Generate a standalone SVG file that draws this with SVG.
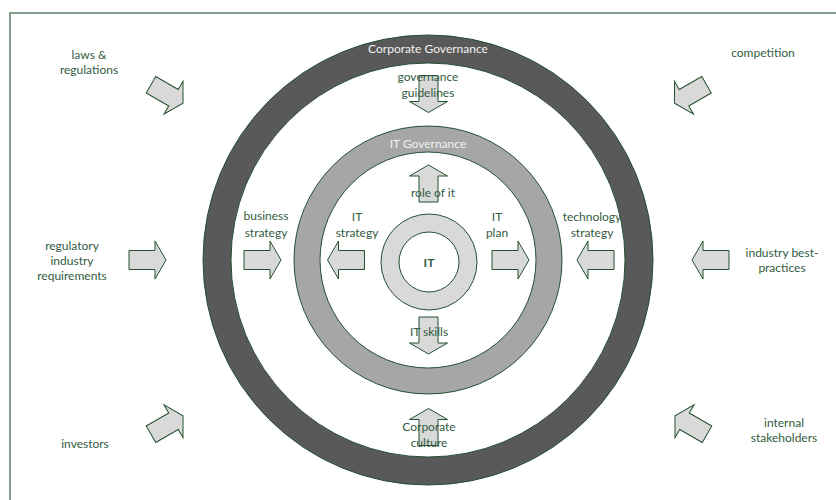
<svg xmlns="http://www.w3.org/2000/svg" xmlns:xlink="http://www.w3.org/1999/xlink" width="836" height="500" viewBox="0 0 836 500">
<style>
  text { font-family: Lato, "Open Sans", "Liberation Sans", sans-serif; font-size: 12px; fill: #325c41; text-anchor: middle; }
  .light { fill: #f2f2f2; }
  .bold { font-weight: bold; }
  .ring { stroke: #23502f; stroke-width: 1; fill-rule: evenodd; }
  .arr { fill: #d9d9d9; stroke: #23502f; stroke-width: 1; stroke-linejoin: miter; }
</style>
<defs>
  <polygon id="blk" points="-18.5,-9.5 7.5,-9.5 7.5,-19 18.5,0 7.5,19 7.5,9.5 -18.5,9.5"/>
</defs>
<rect x="0" y="0" width="836" height="500" fill="#ffffff"/>
<rect x="10" y="13" width="850" height="520" fill="#ffffff" stroke="#7f9d89" stroke-width="2"/>

<g id="corporate-governance">
  <path class="ring" fill="#595959" d="M203,260 a225,225 0 1,0 450,0 a225,225 0 1,0 -450,0 Z M231,260 a197,197 0 1,0 394,0 a197,197 0 1,0 -394,0 Z"/>
  <text class="light" x="428" y="53">Corporate Governance</text>
</g>
<g id="it-governance">
  <path class="ring" fill="#a6a6a6" d="M294,260 a134,134 0 1,0 268,0 a134,134 0 1,0 -268,0 Z M320,260 a108,108 0 1,0 216,0 a108,108 0 1,0 -216,0 Z"/>
  <text class="light" x="428" y="148">IT Governance</text>
</g>
<g id="it">
  <path class="ring" fill="#d9d9d9" d="M381,262 a48,48 0 1,0 96,0 a48,48 0 1,0 -96,0 Z M399,262 a30,30 0 1,0 60,0 a30,30 0 1,0 -60,0 Z"/>
  <text class="bold" x="429" y="267">IT</text>
</g>

<g id="connectors">
  <use xlink:href="#blk" class="arr" transform="translate(167,94) rotate(30)"/>
  <use xlink:href="#blk" class="arr" transform="translate(690.5,94) rotate(150)"/>
  <use xlink:href="#blk" class="arr" transform="translate(167,425) rotate(-30)"/>
  <use xlink:href="#blk" class="arr" transform="translate(691,425) rotate(-150)"/>
  <use xlink:href="#blk" class="arr" transform="translate(147.5,260)"/>
  <use xlink:href="#blk" class="arr" transform="translate(262.5,260)"/>
  <use xlink:href="#blk" class="arr" transform="translate(346,260) rotate(180)"/>
  <use xlink:href="#blk" class="arr" transform="translate(510.5,260)"/>
  <use xlink:href="#blk" class="arr" transform="translate(595.5,260) rotate(180)"/>
  <use xlink:href="#blk" class="arr" transform="translate(710.5,260) rotate(180)"/>
  <use xlink:href="#blk" class="arr" transform="translate(428.5,94) rotate(90)"/>
  <use xlink:href="#blk" class="arr" transform="translate(428.5,183.5) rotate(-90)"/>
  <use xlink:href="#blk" class="arr" transform="translate(428.5,335.5) rotate(90)"/>
  <use xlink:href="#blk" class="arr" transform="translate(428.5,427) rotate(-90)"/>
</g>

<g id="laws-regulations"><text x="89" y="59">laws &amp;</text><text x="89" y="74">regulations</text></g>
<g id="competition"><text x="763" y="57">competition</text></g>
<g id="governance-guidelines"><text x="428" y="81">governance</text><text x="428" y="97">guidelines</text></g>
<g id="role-of-it"><text x="433" y="197">role of it</text></g>
<g id="business-strategy"><text x="266" y="220">business</text><text x="266" y="237">strategy</text></g>
<g id="regulatory-requirements"><text x="72" y="250">regulatory</text><text x="72" y="265">industry</text><text x="72" y="280">requirements</text></g>
<g id="it-strategy"><text x="357" y="221">IT</text><text x="357" y="237">strategy</text></g>
<g id="it-plan"><text x="497" y="221">IT</text><text x="497" y="237">plan</text></g>
<g id="technology-strategy"><text x="592" y="221">technology</text><text x="592" y="237">strategy</text></g>
<g id="industry-best-practices"><text x="782" y="257">industry best-</text><text x="782" y="272">practices</text></g>
<g id="it-skills"><text x="429" y="336">IT skills</text></g>
<g id="corporate-culture"><text x="429" y="431">Corporate</text><text x="429" y="447">culture</text></g>
<g id="investors"><text x="85" y="448">investors</text></g>
<g id="internal-stakeholders"><text x="784" y="427">internal</text><text x="784" y="442">stakeholders</text></g>
</svg>
